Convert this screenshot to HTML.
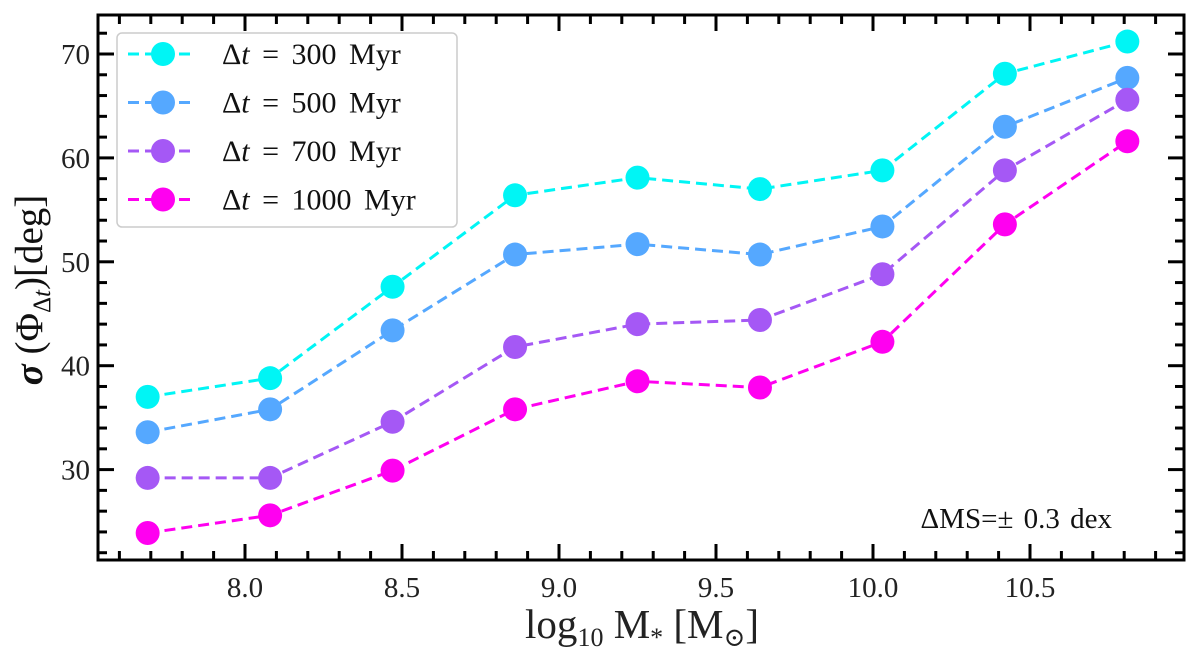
<!DOCTYPE html>
<html><head><meta charset="utf-8"><style>
html,body{margin:0;padding:0;background:#fff;}
svg{display:block;font-family:"Liberation Serif","DejaVu Serif",serif;}
</style></head><body>
<svg id="chart" width="1200" height="659" viewBox="0 0 1200 659" xmlns="http://www.w3.org/2000/svg">
<g id="plot"></g>
</svg>
<script>
const xValues = [7.69, 8.08, 8.47, 8.86, 9.25, 9.64, 10.03, 10.42, 10.81];
const series300 = [37.0, 38.8, 47.6, 56.4, 58.1, 57.0, 58.8, 68.1, 71.2];
const series500 = [33.6, 35.8, 43.4, 50.7, 51.7, 50.7, 53.4, 63.0, 67.7];
const series700 = [29.2, 29.2, 34.6, 41.8, 44.0, 44.4, 48.8, 58.8, 65.6];
const series1000 = [23.9, 25.6, 29.9, 35.8, 38.5, 37.9, 42.3, 53.6, 61.6];
const seriesLabels = ["Δt = 300 Myr","Δt = 500 Myr","Δt = 700 Myr","Δt = 1000 Myr"];
const seriesColors = ["#00f5f5","#55a8ff","#a558f5","#ff00f0"];
const xTickLabels = ["8.0","8.5","9.0","9.5","10.0","10.5"];
const yTickLabels = ["30","40","50","60","70"];

const L=98,R=1184,T=15,B=560;
const xs = v => 245 + (v-8)*314;
const ys = v => 54 + (70-v)*10.39;
const NS="http://www.w3.org/2000/svg";
const g=document.getElementById('plot');
function mk(tag,attrs,parent){const e=document.createElementNS(NS,tag);for(const k in attrs)e.setAttribute(k,attrs[k]);(parent||g).appendChild(e);return e;}

const ticks=mk('g',{});


for(let i=0;;i++){const v=7.6+i*0.1;const x=xs(v);if(x>R)break;if(x<L)continue;
  const major=Math.abs(Math.round(v*10)%5)===0;const len=major?16:9;
  mk('line',{x1:x,y1:B,x2:x,y2:B-len,stroke:'#000','stroke-width':3},ticks);
  mk('line',{x1:x,y1:T,x2:x,y2:T+len,stroke:'#000','stroke-width':3},ticks);}
for(let v=22;v<=74;v+=2){const y=ys(v);if(y<T||y>B)continue;
  const major=v%10===0;const len=major?16:9;
  mk('line',{x1:L,y1:y,x2:L+len,y2:y,stroke:'#000','stroke-width':3},ticks);
  mk('line',{x1:R,y1:y,x2:R-len,y2:y,stroke:'#000','stroke-width':3},ticks);}
xTickLabels.forEach(s=>{const t=mk('text',{x:xs(parseFloat(s)),y:B+37,'font-size':29,'text-anchor':'middle',fill:'#222'});t.textContent=s;
  
  });
yTickLabels.forEach(s=>{const t=mk('text',{x:L-8,y:ys(parseFloat(s))+10,'font-size':29,'text-anchor':'end',fill:'#222'});t.textContent=s;
  
  });

[series300,series500,series700,series1000].forEach((arr,si)=>{
  const sg=mk('g',{});
  
  
  const pts=arr.map((v,i)=>xs(xValues[i])+','+ys(v)).join(' ');
  mk('polyline',{points:pts,fill:'none',stroke:seriesColors[si],'stroke-width':3,'stroke-dasharray':'11,6'},sg);
  arr.forEach((v,i)=>{const c=mk('circle',{cx:xs(xValues[i]),cy:ys(v),r:12,fill:seriesColors[si]},sg);
    
    });
});

const fr=mk('rect',{x:L,y:T,width:R-L,height:B-T,fill:'none',stroke:'#000','stroke-width':3});



const lg=mk('g',{});


mk('rect',{x:117,y:33,width:340,height:194,rx:5,fill:'#fff',stroke:'#ccc','stroke-width':1.5},lg);
seriesLabels.forEach((s,i)=>{const y=54+i*48.5;
  const e=mk('g',{},lg);
  
  
  mk('line',{x1:128,y1:y,x2:194,y2:y,stroke:seriesColors[i],'stroke-width':3,'stroke-dasharray':'11,6'},e);
  mk('circle',{cx:163,cy:y,r:12,fill:seriesColors[i]},e);
  const t=mk('text',{x:222,y:y+10,'font-size':30,fill:'#111','word-spacing':'5'},e);
  const parts=s.split(' ');
  t.innerHTML='Δ<tspan font-style="italic">t</tspan> = '+parts[2]+' Myr';
});

const an=mk('text',{x:1112,y:528,'font-size':29,'text-anchor':'end',fill:'#111','word-spacing':'3'});
an.textContent='ΔMS=± 0.3 dex';



const xl=mk('text',{x:642,y:638,'font-size':41,'text-anchor':'middle',fill:'#222'});
xl.innerHTML='log<tspan font-size="26" dy="8">10</tspan><tspan dy="-8"> M</tspan><tspan font-size="26" dy="8">*</tspan><tspan dy="-8"> [M</tspan><tspan font-size="26" dy="8">⊙</tspan><tspan dy="-8">]</tspan>';



const yl=mk('text',{x:0,y:0,'font-size':39,'text-anchor':'middle',fill:'#111',transform:'translate(42,290) rotate(-90)'});
yl.innerHTML='<tspan font-style="italic" font-weight="bold">σ</tspan> (Φ<tspan font-size="25" dy="8">Δ<tspan font-style="italic">t</tspan></tspan><tspan dy="-8">)[deg]</tspan>';


</script>
</body></html>
